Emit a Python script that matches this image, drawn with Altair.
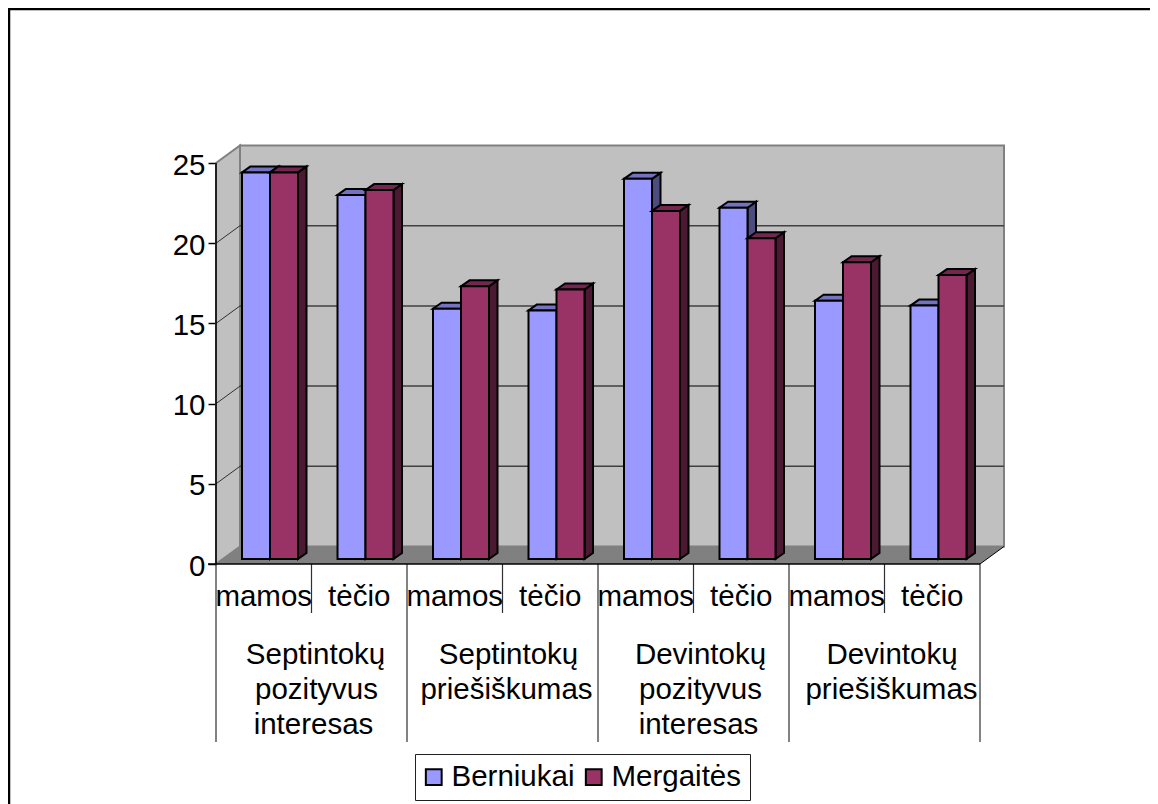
import altair as alt
import pandas as pd

groups = ["Septintokų pozityvus interesas", "Septintokų priešiškumas",
          "Devintokų pozityvus interesas", "Devintokų priešiškumas"]
group_lines = [["Septintokų", "pozityvus", "interesas"], ["Septintokų", "priešiškumas"],
               ["Devintokų", "pozityvus", "interesas"], ["Devintokų", "priešiškumas"]]
parents = ["mamos", "tėčio"] * 4
series = ["Berniukai", "Mergaitės"]
berniukai = [24.1, 22.7, 15.6, 15.5, 23.7, 21.9, 16.1, 15.8]
mergaites = [24.1, 23.0, 17.0, 16.8, 21.7, 20.0, 18.5, 17.7]
y_ticks = [0, 5, 10, 15, 20, 25]
front_colors = ["#9999FF", "#993366"]
top_colors = ["#7373BF", "#732650"]
side_colors = ["#4C4C7F", "#4C1933"]

W, H = 1142, 796
PX_CAT = 95.5
PX_UNIT = 16.04
X0, Y0 = 216 - 8, 564 - 8
FONT = "Liberation Sans"
FS = 29.5
# horizontal nudge of each wrapped group-label line, in pixels
line_nudge = [[4, 5, 2], [6, 4], [7, 7, 5], [7.5, 7]]


def vy(py):
    """page pixel row -> value units"""
    return (564 - py) / PX_UNIT


def ux(px):
    return (px - 216) / PX_CAT


x_scale = alt.Scale(domain=[-X0 / PX_CAT, (W - X0) / PX_CAT], range=[0, W], nice=False, zero=False)
y_scale = alt.Scale(domain=[-(H - Y0) / PX_UNIT, Y0 / PX_UNIT], range=[H, 0], nice=False, zero=False)
X = lambda f="x": alt.X(f"{f}:Q", scale=x_scale, axis=None)
Y = lambda f="y": alt.Y(f"{f}:Q", scale=y_scale, axis=None)
X2 = lambda f="x2": alt.X2(f"{f}:Q")
Y2 = lambda f="y2": alt.Y2(f"{f}:Q")

DX, DY = 24 / PX_CAT, 17.5 / PX_UNIT
BX, BY = 8.5 / PX_CAT, 6 / PX_UNIT
BASE = 5 / PX_UNIT
BAR0, BARW = 26 / PX_CAT, 28 / PX_CAT
WALL = "#C0C0C0"

back = alt.Chart(pd.DataFrame([{"x": DX, "x2": 8 + DX, "y": DY, "y2": 25 + DY}])).mark_rect(
    fill=WALL, stroke="#808080", strokeWidth=2
).encode(x=X(), x2=X2(), y=Y(), y2=Y2())

left = alt.Chart(pd.DataFrame([{"x": 0, "y": 0, "y2": 25}, {"x": DX, "y": DY, "y2": 25 + DY}])).mark_area(
    fill=WALL, stroke="#808080", strokeWidth=2
).encode(x=X(), y=Y(), y2=Y2())

floor = alt.Chart(pd.DataFrame([{"y": 0, "x": 0, "x2": 8}, {"y": DY, "x": DX, "x2": 8 + DX}])).mark_area(
    orient="horizontal", fill="#808080"
).encode(y=Y(), x=X(), x2=X2())

floor_edge = alt.Chart(pd.DataFrame([{"x": 8, "y": 0}, {"x": 8 + DX, "y": DY}])).mark_line(
    color="black", strokeWidth=1
).encode(x=X(), y=Y())

grid_vals = y_ticks[1:-1]
grid_back = alt.Chart(pd.DataFrame([{"x": DX, "x2": 8 + DX, "y": v + DY} for v in grid_vals])).mark_rule(
    color="#404040", strokeWidth=1.5
).encode(x=X(), x2=X2(), y=Y())
grid_side = alt.Chart(pd.DataFrame(
    [{"k": v, "x": 0, "y": v} for v in y_ticks[1:-1]] + [{"k": v, "x": DX, "y": v + DY} for v in y_ticks[1:-1]]
)).mark_line(color="#303030", strokeWidth=1).encode(x=X(), y=Y(), detail="k:N")

rows = []
for i in range(8):
    for s, vals in enumerate([berniukai, mergaites]):
        xa = i + BAR0 + s * BARW
        xb = xa + BARW
        top = BASE + vals[i]
        rows.append({"group": groups[i // 2], "parent": parents[i], "series": series[s], "s": s, "i": i,
                     "value": vals[i], "xa": xa, "xb": xb, "xc": xb + BX, "xd": xa + BX,
                     "y0": BASE, "top": top, "y0b": BASE + BY, "topb": top + BY})
bars = pd.DataFrame(rows)

color = alt.Color("series:N", scale=alt.Scale(domain=series, range=front_colors), legend=alt.Legend(
    title=None, orient="none", legendX=415 - 8, legendY=754 - 8, direction="horizontal", columns=2,
    labelFont=FONT, labelFontSize=FS, labelColor="black", symbolType="square", symbolSize=250,
    symbolStrokeColor="black", symbolStrokeWidth=2, strokeColor="#202020", fillColor="white",
    padding=8, columnPadding=6, labelOffset=3, symbolOffset=-4, cornerRadius=0))

layers = [back, left, floor, floor_edge, grid_back, grid_side]
STROKE = dict(stroke="black", strokeWidth=2)
for s in range(2):
    d = bars[bars.s == s]
    side = pd.concat([
        pd.DataFrame({"i": d.i, "x": d.xb, "y": d.y0, "y2": d.top}),
        pd.DataFrame({"i": d.i, "x": d.xc, "y": d.y0b, "y2": d.topb}),
    ])
    top = pd.concat([
        pd.DataFrame({"i": d.i, "y": d.top, "x": d.xa, "x2": d.xb}),
        pd.DataFrame({"i": d.i, "y": d.topb, "x": d.xd, "x2": d.xc}),
    ])
    layers.append(alt.Chart(side).mark_area(fill=side_colors[s], **STROKE).encode(
        x=X(), y=Y(), y2=Y2(), detail="i:N"))
    layers.append(alt.Chart(top).mark_area(orient="horizontal", fill=top_colors[s], **STROKE).encode(
        y=Y(), x=X(), x2=X2(), detail="i:N"))
    layers.append(alt.Chart(d).mark_rect(**STROKE).encode(
        x=X("xa"), x2=X2("xb"), y=Y("y0"), y2=Y2("top"), color=color))

# category axis: separators and labels
seps_long = [0, 2, 4, 6, 8]
seps_short = [1, 3, 5, 7]
sep = pd.DataFrame([{"x": v, "y": 0, "y2": vy(742)} for v in seps_long] +
                   [{"x": v, "y": 0, "y2": vy(613)} for v in seps_short])
layers.append(alt.Chart(sep).mark_rule(color="#303030", strokeWidth=1.2).encode(x=X(), y=Y(), y2=Y2()))
layers.append(alt.Chart(pd.DataFrame([{"x": ux(208), "x2": 8, "y": 0}])).mark_rule(
    color="black", strokeWidth=1.5).encode(x=X(), x2=X2(), y=Y()))
layers.append(alt.Chart(pd.DataFrame([{"x": 0, "y": 0, "y2": 25}])).mark_rule(
    color="black", strokeWidth=1.5).encode(x=X(), y=Y(), y2=Y2()))

txt = dict(font=FONT, fontSize=FS, color="black", baseline="middle", align="center")
parent_df = pd.DataFrame([{"x": i + 0.5, "y": vy(597), "t": parents[i]} for i in range(8)])
layers.append(alt.Chart(parent_df).mark_text(**txt).encode(x=X(), y=Y(), text="t:N"))
line_rows = []
for g, lines in enumerate(group_lines):
    for j, t in enumerate(lines):
        line_rows.append({"x": 2 * g + 1 + line_nudge[g][j] / PX_CAT, "y": vy(655 + 35 * j), "t": t})
layers.append(alt.Chart(pd.DataFrame(line_rows)).mark_text(**txt).encode(x=X(), y=Y(), text="t:N"))

# value axis (real axis, moved to the front-left edge of the box)
axis_layer = alt.Chart(pd.DataFrame({"v": y_ticks})).mark_point(opacity=0).encode(
    x=alt.value(X0),
    y=alt.Y("v:Q", scale=y_scale, axis=alt.Axis(
        orient="left", offset=-X0, values=y_ticks, title=None, grid=False, domain=False,
        tickColor="black", tickSize=8, tickWidth=1.5, labelFont=FONT, labelFontSize=FS,
        labelColor="black", labelPadding=3, labelOffset=2, labelOverlap=False, labelBound=False,
        labelFlush=False)))
layers.append(axis_layer)

# outer chart frame: heavy top and left, open bottom
frame_top = alt.Chart(pd.DataFrame({"k": [0]})).mark_rule(color="black", strokeWidth=2.5).encode(
    x=alt.value(0), x2=alt.value(W), y=alt.value(1))
frame_left = alt.Chart(pd.DataFrame({"k": [0]})).mark_rule(color="black", strokeWidth=2.5).encode(
    x=alt.value(1), y=alt.value(0), y2=alt.value(H))
layers += [frame_top, frame_left]

chart = alt.layer(*layers).resolve_scale(x="shared", y="shared").resolve_axis(y="independent").properties(
    width=W, height=H, padding=0, background="white", autosize=alt.AutoSizeParams(type="none")
).configure_view(strokeWidth=0)

chart.save("out.html", embed_options={"renderer": "svg", "actions": False})
